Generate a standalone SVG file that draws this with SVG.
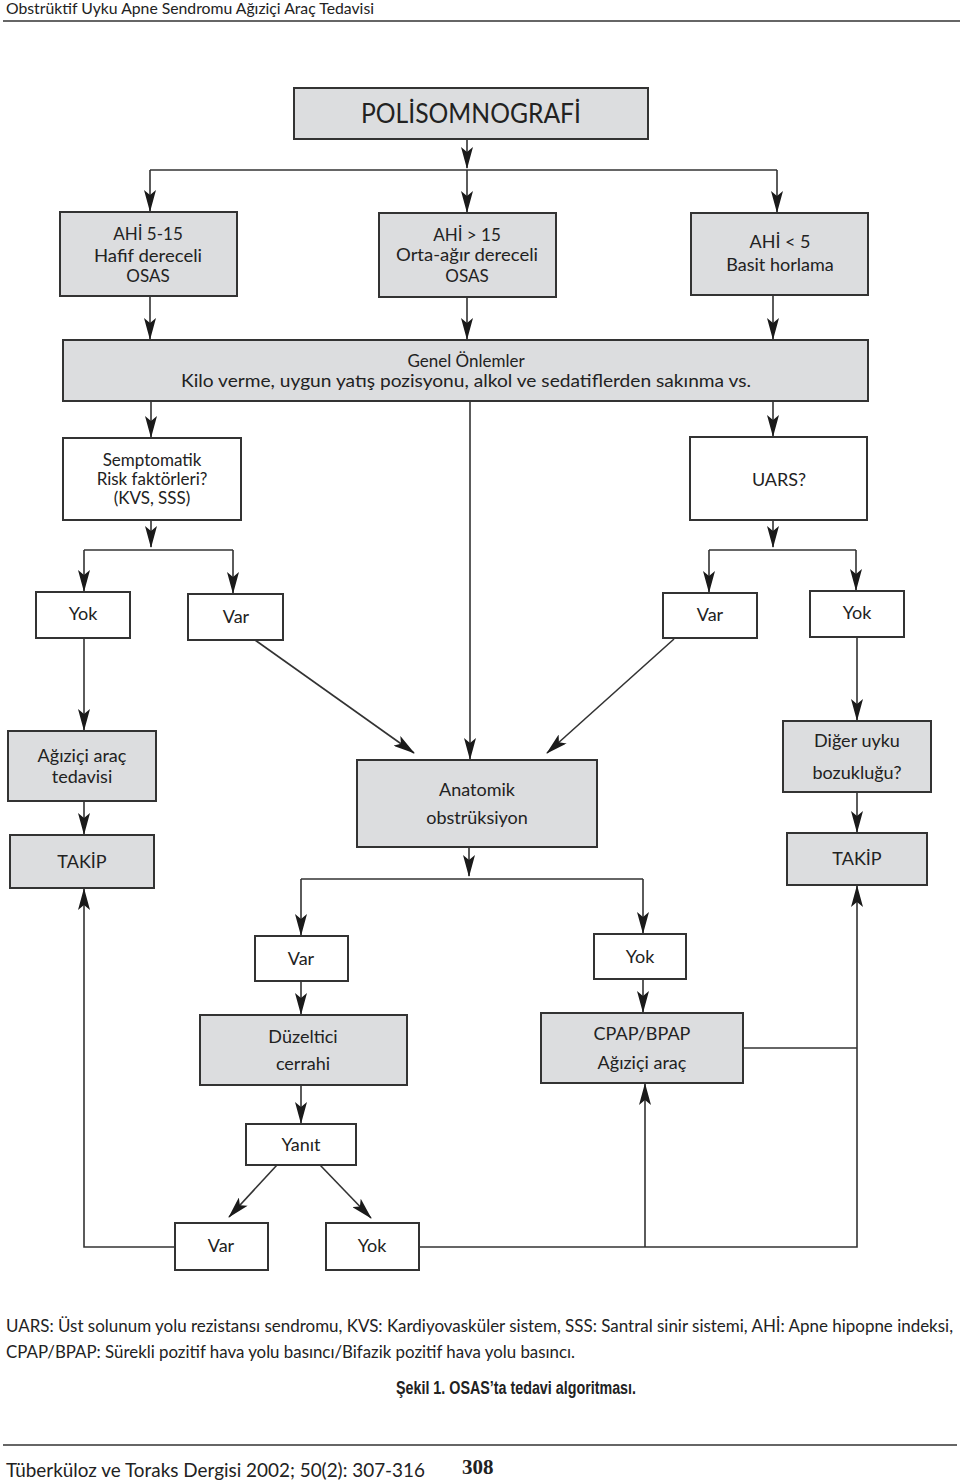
<svg xmlns="http://www.w3.org/2000/svg" width="960" height="1484" viewBox="0 0 960 1484">
<style>
.g{fill:#dcdddf;stroke:#333;stroke-width:2}
.w{fill:#fff;stroke:#333;stroke-width:2}
.t{font-family:Lato,"Liberation Sans",sans-serif;font-size:18px;fill:#222;text-anchor:middle}
.s{font-size:17px}
.big{font-size:27px}
.c{fill:none;stroke:#333;stroke-width:1.6}
.a{marker-end:url(#ah)}
.n{font-family:Lato,"Liberation Sans",sans-serif;font-size:16px;fill:#222}
</style>
<defs>
<marker id="ah" viewBox="0 0 22 12" refX="21" refY="6" markerWidth="22" markerHeight="12" markerUnits="userSpaceOnUse" orient="auto">
<path d="M0,0 L22,6 L0,12 L5,6 z" fill="#1a1a1a"/>
</marker>
</defs>
<rect width="960" height="1484" fill="#fff"/>
<text x="6" y="14" class="n" style="font-size:15px" textLength="368" lengthAdjust="spacingAndGlyphs">Obstrüktif Uyku Apne Sendromu Ağıziçi Araç Tedavisi</text>
<line x1="3" y1="21" x2="960" y2="21" stroke="#333" stroke-width="1.6"/>

<g id="connectors">
<path class="c a" d="M467,139 V168"/>
<path class="c" d="M150,170 H777"/>
<path class="c a" d="M150,170 V211"/>
<path class="c a" d="M467,170 V212"/>
<path class="c a" d="M777,170 V212"/>
<path class="c a" d="M150,296 V339"/>
<path class="c a" d="M467,297 V339"/>
<path class="c a" d="M773,295 V339"/>
<path class="c a" d="M151,401 V437"/>
<path class="c a" d="M773,401 V436"/>
<path class="c a" d="M470,401 V759"/>
<path class="c a" d="M151,520 V547"/>
<path class="c" d="M84,550 H233"/>
<path class="c a" d="M84,550 V591"/>
<path class="c a" d="M233,550 V593"/>
<path class="c a" d="M773,520 V547"/>
<path class="c" d="M709,550 H856"/>
<path class="c a" d="M709,550 V592"/>
<path class="c a" d="M856,550 V590"/>
<path class="c a" d="M84,638 V730"/>
<path class="c a" d="M255,640 L414,753"/>
<path class="c a" d="M674,639 L547,753"/>
<path class="c a" d="M857,637 V720"/>
<path class="c a" d="M84,801 V834"/>
<path class="c a" d="M857,792 V832"/>
<path class="c a" d="M469,847 V876"/>
<path class="c" d="M301,879 H643"/>
<path class="c a" d="M301,879 V935"/>
<path class="c a" d="M643,879 V933"/>
<path class="c a" d="M301,981 V1014"/>
<path class="c a" d="M643,979 V1012"/>
<path class="c a" d="M301,1085 V1123"/>
<path class="c a" d="M277,1165 L229,1217"/>
<path class="c a" d="M320,1165 L371,1218"/>
<path class="c a" d="M175,1247 H84 V889"/>
<path class="c a" d="M419,1247 H857 V886"/>
<path class="c a" d="M645,1247 V1084"/>
<path class="c" d="M743,1048 H857"/>
</g>

<g id="n-polisomnografi"><rect class="g" x="294" y="88" width="354" height="51"/><text class="t big" x="471" y="123" textLength="220" lengthAdjust="spacingAndGlyphs">POLİSOMNOGRAFİ</text></g>
<g id="n-ahi515"><rect class="g" x="60" y="212" width="177" height="84"/><text class="t s" x="148" y="240">AHİ 5-15</text><text class="t s" x="148" y="262" textLength="108" lengthAdjust="spacingAndGlyphs">Hafif dereceli</text><text class="t s" x="148" y="282">OSAS</text></g>
<g id="n-ahi15"><rect class="g" x="379" y="213" width="177" height="84"/><text class="t s" x="467" y="241">AHİ &gt; 15</text><text class="t s" x="467" y="261" textLength="142" lengthAdjust="spacingAndGlyphs">Orta-ağır dereceli</text><text class="t s" x="467" y="282">OSAS</text></g>
<g id="n-ahi5"><rect class="g" x="691" y="213" width="177" height="82"/><text class="t" x="780" y="248">AHİ &lt; 5</text><text class="t" x="780" y="271">Basit horlama</text></g>
<g id="n-genel"><rect class="g" x="63" y="340" width="805" height="61"/><text class="t s" x="466" y="367">Genel Önlemler</text><text class="t s" x="466" y="387" textLength="570" lengthAdjust="spacingAndGlyphs">Kilo verme, uygun yatış pozisyonu, alkol ve sedatiflerden sakınma vs.</text></g>
<g id="n-semptomatik"><rect class="w" x="63" y="438" width="178" height="82"/><text class="t s" x="152" y="466">Semptomatik</text><text class="t s" x="152" y="485">Risk faktörleri?</text><text class="t s" x="152" y="504">(KVS, SSS)</text></g>
<g id="n-uars"><rect class="w" x="690" y="437" width="177" height="83"/><text class="t" x="779" y="486">UARS?</text></g>
<g id="n-yok1"><rect class="w" x="36" y="592" width="94" height="46"/><text class="t" x="83" y="620">Yok</text></g>
<g id="n-var1"><rect class="w" x="188" y="594" width="95" height="46"/><text class="t" x="236" y="623">Var</text></g>
<g id="n-var2"><rect class="w" x="663" y="593" width="94" height="45"/><text class="t" x="710" y="621">Var</text></g>
<g id="n-yok2"><rect class="w" x="810" y="591" width="94" height="46"/><text class="t" x="857" y="619">Yok</text></g>
<g id="n-agizici"><rect class="g" x="8" y="731" width="148" height="70"/><text class="t" x="82" y="762">Ağıziçi araç</text><text class="t" x="82" y="783">tedavisi</text></g>
<g id="n-takip1"><rect class="g" x="10" y="835" width="144" height="53"/><text class="t" x="82" y="868">TAKİP</text></g>
<g id="n-anatomik"><rect class="g" x="357" y="760" width="240" height="87"/><text class="t" x="477" y="796">Anatomik</text><text class="t" x="477" y="824">obstrüksiyon</text></g>
<g id="n-diger"><rect class="g" x="783" y="721" width="148" height="71"/><text class="t" x="857" y="747">Diğer uyku</text><text class="t" x="857" y="779">bozukluğu?</text></g>
<g id="n-takip2"><rect class="g" x="787" y="833" width="140" height="52"/><text class="t" x="857" y="865">TAKİP</text></g>
<g id="n-var3"><rect class="w" x="255" y="936" width="93" height="45"/><text class="t" x="301" y="965">Var</text></g>
<g id="n-yok3"><rect class="w" x="594" y="934" width="92" height="45"/><text class="t" x="640" y="963">Yok</text></g>
<g id="n-duzeltici"><rect class="g" x="200" y="1015" width="207" height="70"/><text class="t" x="303" y="1043">Düzeltici</text><text class="t" x="303" y="1070">cerrahi</text></g>
<g id="n-cpap"><rect class="g" x="541" y="1013" width="202" height="70"/><text class="t" x="642" y="1040">CPAP/BPAP</text><text class="t" x="642" y="1069">Ağıziçi araç</text></g>
<g id="n-yanit"><rect class="w" x="246" y="1124" width="110" height="41"/><text class="t" x="301" y="1151">Yanıt</text></g>
<g id="n-var4"><rect class="w" x="175" y="1223" width="93" height="47"/><text class="t" x="221" y="1252">Var</text></g>
<g id="n-yok4"><rect class="w" x="326" y="1223" width="93" height="47"/><text class="t" x="372" y="1252">Yok</text></g>

<text x="6" y="1332" class="n" style="font-size:17px" textLength="947" lengthAdjust="spacingAndGlyphs">UARS: Üst solunum yolu rezistansı sendromu, KVS: Kardiyovasküler sistem, SSS: Santral sinir sistemi, AHİ: Apne hipopne indeksi,</text>
<text x="6" y="1358" class="n" style="font-size:17px" textLength="569" lengthAdjust="spacingAndGlyphs">CPAP/BPAP: Sürekli pozitif hava yolu basıncı/Bifazik pozitif hava yolu basıncı.</text>
<text x="396" y="1394" font-family="'Liberation Sans',sans-serif" font-weight="bold" font-size="18" fill="#222" textLength="240" lengthAdjust="spacingAndGlyphs">Şekil 1. OSAS’ta tedavi algoritması.</text>
<line x1="3" y1="1445" x2="957" y2="1445" stroke="#333" stroke-width="1.6"/>
<text x="6" y="1477" class="n" style="font-size:19px" textLength="419" lengthAdjust="spacingAndGlyphs">Tüberküloz ve Toraks Dergisi 2002; 50(2): 307-316</text>
<text x="462" y="1474" font-family="'Liberation Serif',serif" font-weight="bold" font-size="21" fill="#222">308</text>
</svg>
